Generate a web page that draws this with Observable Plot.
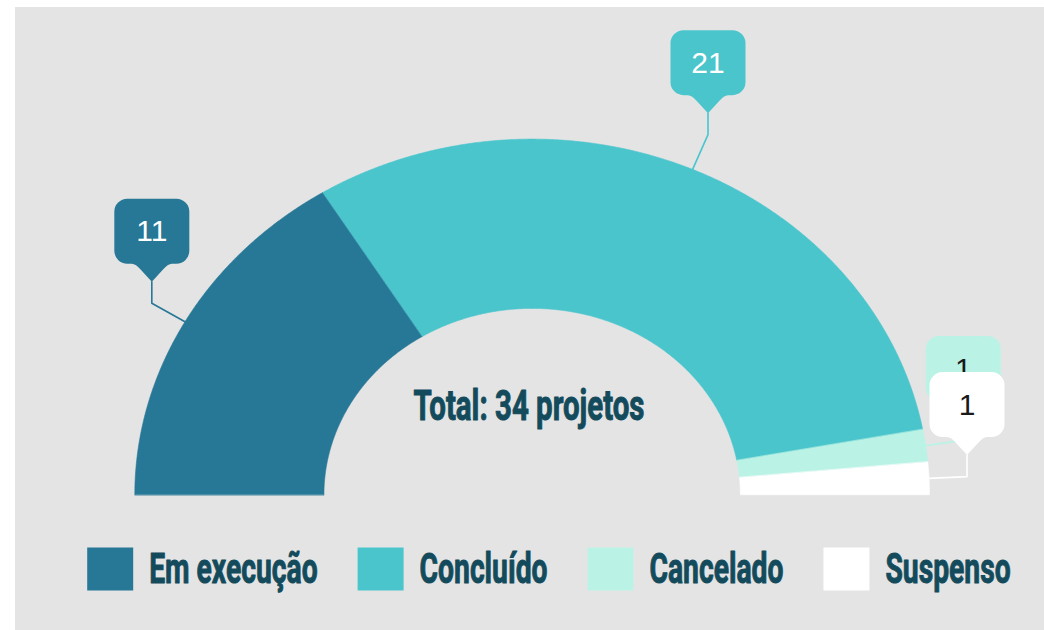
<!DOCTYPE html>
<html>
<head>
<meta charset="utf-8">
<script src="https://cdn.jsdelivr.net/npm/d3@7"></script>
<script src="https://cdn.jsdelivr.net/npm/@observablehq/plot@0.6"></script>
<style>
  html, body { margin: 0; padding: 0; background: #ffffff; }
  #panel { position: absolute; left: 15px; top: 7px; width: 1029px; height: 623px; background: #e4e4e4; overflow: hidden; }
</style>
</head>
<body>
<div id="panel"></div>
<script>
// ---------- data ----------
const categories = ["Em execução", "Concluído", "Cancelado", "Suspenso"];
const values = [11, 21, 1, 1];
const totalPrefix = "Total:";
const totalUnit = "projetos";

// ---------- styles ----------
const colors = ["#277796", "#4ac5cc", "#baf3e5", "#ffffff"];
const labelInk = ["#ffffff", "#ffffff", "#1a1a1a", "#1a1a1a"];
const textInk = "#134b5c";
const condFont = "Roboto, 'Open Sans', sans-serif";
const condSize = 43;
const numFont = "'Liberation Sans', Arial, sans-serif";

// ---------- layout (pixels inside the panel) ----------
const W = 1029, H = 623;
const X0 = 119.3, X1 = 914.0;   // left / right of the outer arc
const Y0 = 487.3, Y1 = 131.6;   // baseline / top of the outer arc
const INNER = 0.524;            // inner radius as a share of the outer
const CALL_LEN = 38, CALL_UP = 21.5; // callout leader
const TOTAL_W = 231;            // condensed width of the centre text
const LEGEND_SQUEEZE = 0.96;
const centerTextPx = 513.5, centerTextPy = 398.6;
const legendStartPx = 71.7, legendPy = 562, swatchPy = 561.5;
const SW = 46, SH = 43, TEXT_GAP = 16, ITEM_GAP = 40;

const xData = px => -1 + 2 * (px - X0) / (X1 - X0);
const yData = py => (Y0 - py) / (Y0 - Y1);
const xPx = x => X0 + (x + 1) / 2 * (X1 - X0);
const yPx = y => Y0 - y * (Y0 - Y1);

// ---------- slices ----------
const total = d3.sum(values);
let cum = 0;
const slices = categories.map((c, i) => {
  const a0 = Math.PI * (1 - cum / total);
  cum += values[i];
  const a1 = Math.PI * (1 - cum / total);
  return {cat: c, i, a0, a1, mid: (a0 + a1) / 2};
});

const arcPts = [];
for (const s of slices) {
  const n = Math.max(2, Math.ceil((s.a0 - s.a1) / (Math.PI / 720)));
  for (let k = 0; k <= n; k++) {
    const a = s.a0 + (s.a1 - s.a0) * k / n;
    arcPts.push({cat: s.cat, x: Math.cos(a), y: Math.sin(a)});
  }
  for (let k = n; k >= 0; k--) {
    const a = s.a0 + (s.a1 - s.a0) * k / n;
    arcPts.push({cat: s.cat, x: INNER * Math.cos(a), y: INNER * Math.sin(a)});
  }
}

// ---------- callouts ----------
const callouts = slices.map(s => {
  const p0 = [xPx(Math.cos(s.mid)), yPx(Math.sin(s.mid))];
  const p1 = [p0[0] + CALL_LEN * Math.cos(s.mid), p0[1] - CALL_LEN * Math.sin(s.mid)];
  const p2 = [p1[0], p1[1] - CALL_UP];
  return {
    cat: s.cat, i: s.i, value: values[s.i],
    line: [p0, p1, p2].map(([px, py]) => ({x: xData(px), y: yData(py)})),
    tip: {x: xData(p2[0]), y: yData(p2[1])}
  };
});

const BW = 75, BH = 65, PH = 18, BR = 13, PB = 20;
const bubble = {
  draw(ctx) {
    const l = -BW / 2, r = BW / 2, b = -PH, t = -PH - BH;
    ctx.moveTo(0, 0);
    ctx.lineTo(-PB * 0.55, b + 6);
    ctx.quadraticCurveTo(-PB * 0.8, b, -PB, b);
    ctx.lineTo(l + BR, b);
    ctx.arcTo(l, b, l, b - BR, BR);
    ctx.lineTo(l, t + BR);
    ctx.arcTo(l, t, l + BR, t, BR);
    ctx.lineTo(r - BR, t);
    ctx.arcTo(r, t, r, t + BR, BR);
    ctx.lineTo(r, b - BR);
    ctx.arcTo(r, b, r - BR, b, BR);
    ctx.lineTo(PB, b);
    ctx.quadraticCurveTo(PB * 0.8, b, PB * 0.55, b + 6);
    ctx.closePath();
  }
};
const swatch = { draw(ctx) { ctx.rect(-SW / 2, -SH / 2, SW, SH); } };

// ---------- condensed text measuring ----------
const cvs = document.createElement("canvas").getContext("2d");
cvs.font = `700 ${condSize}px ${condFont}`;
const centerLabel = `${totalPrefix} ${total} ${totalUnit}`;
const kCond = TOTAL_W / cvs.measureText(centerLabel).width;

let cur = legendStartPx;
const legend = categories.map((c, i) => {
  const tw = cvs.measureText(c).width * kCond * LEGEND_SQUEEZE;
  const item = {cat: c, i, sx: xData(cur + SW / 2), tx: xData(cur + SW + TEXT_GAP), tw};
  cur += SW + TEXT_GAP + tw + ITEM_GAP;
  return item;
});
const condWidths = new Map([[centerLabel, TOTAL_W], ...legend.map(d => [d.cat, d.tw])]);

// ---------- marks ----------
const marks = [
  Plot.line(arcPts, {x: "x", y: "y", z: "cat", fill: "cat", stroke: "cat", strokeWidth: 0.6, curve: "linear-closed"})
];
for (const c of callouts) {
  marks.push(
    Plot.line(c.line, {x: "x", y: "y", stroke: colors[c.i], strokeWidth: 1.6}),
    Plot.dot([c.tip], {x: "x", y: "y", symbol: bubble, r: 10, fill: colors[c.i], stroke: "none"}),
    Plot.text([c.tip], {x: "x", y: "y", text: () => String(c.value), dy: -50, fill: labelInk[c.i],
      fontSize: 30, fontFamily: numFont, lineAnchor: "middle"})
  );
}
marks.push(
  Plot.text([{x: xData(centerTextPx), y: yData(centerTextPy), t: centerLabel}], {x: "x", y: "y", text: "t",
    fontSize: condSize, fontWeight: 700, fontFamily: condFont, fill: textInk, stroke: textInk, strokeWidth: 1,
    textAnchor: "middle", lineAnchor: "middle"}),
  Plot.dot(legend, {x: "sx", y: () => yData(swatchPy), symbol: swatch, r: 10, fill: "cat", stroke: "none"}),
  Plot.text(legend, {x: "tx", y: () => yData(legendPy), text: "cat",
    fontSize: condSize, fontWeight: 700, fontFamily: condFont, fill: textInk, stroke: textInk, strokeWidth: 1,
    textAnchor: "start", lineAnchor: "middle"})
);

const svg = Plot.plot({
  width: W, height: H,
  margin: 0,
  style: {background: "transparent", overflow: "visible"},
  x: {domain: [-1, 1], range: [X0, X1], axis: null},
  y: {domain: [0, 1], range: [Y0, Y1], axis: null},
  color: {domain: categories, range: colors},
  marks
});
document.getElementById("panel").appendChild(svg);

// condense the display text horizontally
svg.querySelectorAll("text").forEach(t => {
  const w = condWidths.get(t.textContent);
  if (w != null) {
    t.setAttribute("textLength", w);
    t.setAttribute("lengthAdjust", "spacingAndGlyphs");
  }
});
</script>
</body>
</html>
